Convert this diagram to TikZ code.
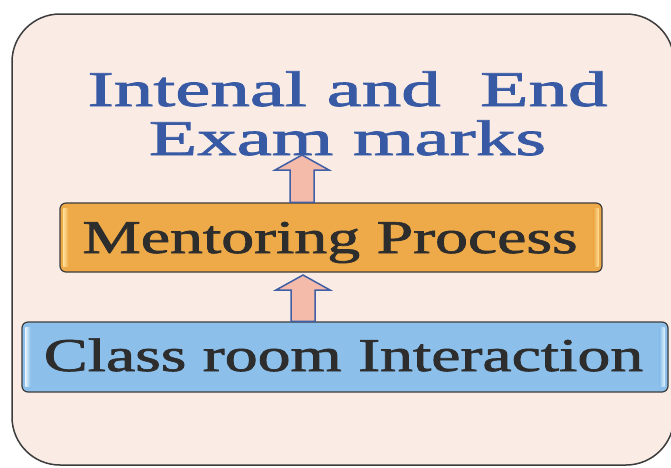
\documentclass[tikz,border=0pt]{standalone}
\usepackage{fontspec}
\setmainfont{Liberation Serif}
\newfontfamily\heavyserif{Liberation Serif}[FakeBold=1.4]
\usepackage{graphicx}
\usetikzlibrary{calc}
\definecolor{bgpink}{RGB}{250,236,229}
\definecolor{framecol}{RGB}{60,60,60}
\definecolor{titleblue}{RGB}{56,90,165}
\definecolor{orangebox}{RGB}{238,170,72}
\definecolor{orangelight}{RGB}{252,222,150}
\definecolor{bluebox}{RGB}{140,192,235}
\definecolor{bluelight}{RGB}{226,242,253}
\definecolor{arrowfill}{RGB}{244,186,170}
\definecolor{arrowline}{RGB}{65,95,165}
\definecolor{boxtext}{RGB}{45,45,45}
\newcommand{\blockarrow}[2]{%
\draw[arrowst] let \p1=(#1), \p2=(#2) in
 (\x1-12pt,\y1) -- (\x1-12pt,\y2-15pt) -- (\x1-27pt,\y2-15pt) -- (\x2,\y2) --
 (\x1+27pt,\y2-15pt) -- (\x1+12pt,\y2-15pt) -- (\x1+12pt,\y1) -- cycle;}
\begin{document}
\begin{tikzpicture}[x=1pt,y=-1pt,
  titlest/.style={font=\heavyserif\fontsize{50}{60}\selectfont, text=titleblue, inner sep=0pt},
  boxst/.style={draw=framecol, line width=1.2pt, rounded corners=6pt, inner sep=0pt},
  boxtextst/.style={font=\heavyserif\fontsize{47}{56}\selectfont, text=boxtext, inner sep=0pt},
  arrowst/.style={draw=arrowline, fill=arrowfill, line width=1.5pt, line join=miter}]
\useasboundingbox (0,0) rectangle (671,467);
\clip (0,0) rectangle (671,467);
\draw[framecol, fill=bgpink, line width=1.5pt, rounded corners=48pt] (12,14) rectangle (674,465);
% title
\node[titlest, anchor=base] (titleA) at (347.5,106) {\scalebox{1.58}[1]{Intenal and\ \ End}};
\node[titlest, anchor=base] (titleB) at (347.5,155) {\scalebox{1.58}[1]{Exam marks}};
% boxes
\node[boxst, fill=orangebox, minimum width=542pt, minimum height=69pt] (mentor) at (331,237.5) {};
\shade[left color=orangelight, right color=orangebox] ($(mentor.north west)+(4,6)$) rectangle ($(mentor.south west)+(9,-6)$);
\shade[left color=orangebox, right color=orangelight] ($(mentor.north east)+(-9,6)$) rectangle ($(mentor.south east)+(-4,-6)$);
\node[boxtextst, anchor=base] (mentortext) at (330,253) {\scalebox{1.4}[1]{Mentoring Process}};
\node[boxst, fill=bluebox, minimum width=646pt, minimum height=70pt] (cls) at (345,357) {};
\shade[left color=bluelight, right color=bluebox] ($(cls.north west)+(4,6)$) rectangle ($(cls.south west)+(9,-6)$);
\shade[left color=bluebox, right color=bluelight] ($(cls.north east)+(-9,6)$) rectangle ($(cls.south east)+(-4,-6)$);
\node[boxtextst, anchor=base] (clstext) at (343.5,371) {\scalebox{1.4}[1]{Class room Interaction}};
% arrows
\coordinate (a1tip) at (302,155);
\coordinate (a2tip) at (303,275);
\blockarrow{mentor.north -| a1tip}{a1tip}
\blockarrow{cls.north -| a2tip}{a2tip}
\end{tikzpicture}
\end{document}
